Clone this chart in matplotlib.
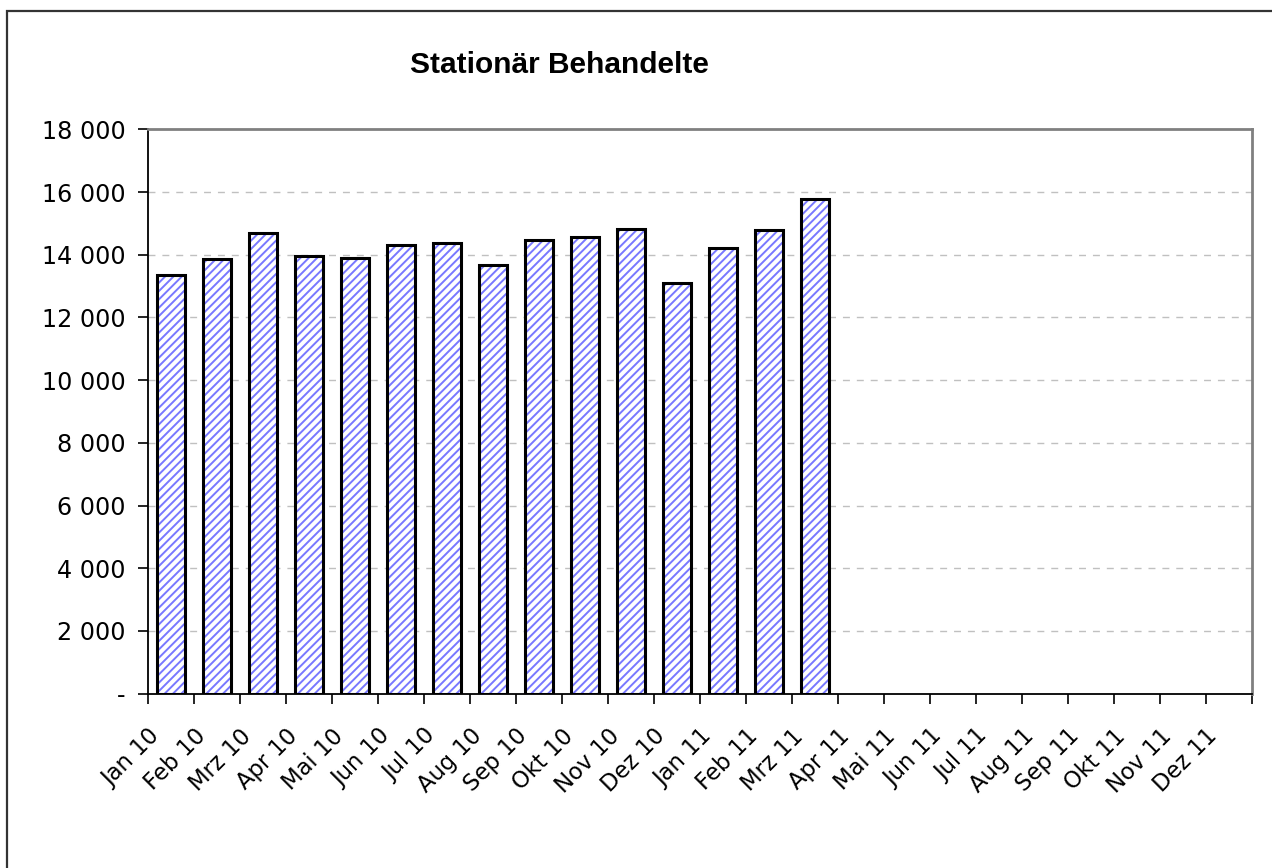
import matplotlib.pyplot as plt
import numpy as np
from matplotlib.patches import Rectangle
from matplotlib.ticker import FixedLocator
from matplotlib.transforms import ScaledTranslation
from matplotlib import font_manager

# Daten
monate = ['Jan 10', 'Feb 10', 'Mrz 10', 'Apr 10', 'Mai 10', 'Jun 10',
          'Jul 10', 'Aug 10', 'Sep 10', 'Okt 10', 'Nov 10', 'Dez 10',
          'Jan 11', 'Feb 11', 'Mrz 11', 'Apr 11', 'Mai 11', 'Jun 11',
          'Jul 11', 'Aug 11', 'Sep 11', 'Okt 11', 'Nov 11', 'Dez 11']
behandelte = [13350, 13870, 14700, 13970, 13910, 14310,
              14380, 13670, 14470, 14580, 14830, 13100,
              14210, 14790, 15780]
y_ticks = [0, 2000, 4000, 6000, 8000, 10000, 12000, 14000, 16000, 18000]
y_labels = ['-', '2 000', '4 000', '6 000', '8 000', '10 000',
            '12 000', '14 000', '16 000', '18 000']

plt.rcParams['hatch.linewidth'] = 1.4

# schmale Schrift für den Titel, falls vorhanden
condensed = any(f.name == 'DejaVu Sans' and f.stretch == 'condensed' and f.weight == 'bold'
                for f in font_manager.fontManager.ttflist)
if condensed:
    titel_kw = dict(family='DejaVu Sans', fontstretch='condensed', fontsize=21)
else:
    titel_kw = dict(family='Liberation Sans', fontsize=21.5)

fig = plt.figure(figsize=(12.72, 8.68), dpi=100)
ax = fig.add_axes([148/1272, 1 - 693.7/868, (1252-148)/1272, (693.7-129.3)/868])

# Rahmen des Diagrammbereichs
fig.patches.append(Rectangle((6.7/1272, -0.1), 1.2, 1 - 10.7/868 + 0.1,
                             transform=fig.transFigure, fill=False,
                             edgecolor='#333333', linewidth=1.6))

x = np.arange(len(behandelte))
# Schraffur (blau) und Umrandung (schwarz) getrennt zeichnen
ax.bar(x, behandelte, width=0.625, color='white', edgecolor='#7878ff',
       hatch='////', linewidth=0, zorder=3)
ax.bar(x, behandelte, width=0.625, fill=False, edgecolor='black',
       linewidth=2.2, zorder=4)

ax.set_xlim(-0.5, len(monate) - 0.5)
ax.set_ylim(0, 18000)

# Gitterlinien
for yt in y_ticks[1:-1]:
    ax.axhline(yt, color='#c0c0c0', linewidth=1, linestyle=(0, (5, 5)), zorder=1)

ax.set_yticks(y_ticks)
ax.set_yticklabels(y_labels, fontsize=17.2)
ax.tick_params(axis='y', direction='out', length=7, width=1.2, pad=9)

ax.set_xticks(np.arange(len(monate)))
ax.set_xticklabels(monate, fontsize=16.3, rotation=45, ha='right',
                   va='center', rotation_mode='anchor')
ax.tick_params(axis='x', which='major', length=0, pad=28)
verschiebung = ScaledTranslation(-15/100, 0, fig.dpi_scale_trans)
for lbl in ax.get_xticklabels():
    lbl.set_transform(lbl.get_transform() + verschiebung)
ax.xaxis.set_minor_locator(FixedLocator(np.arange(-0.5, len(monate), 1)))
ax.tick_params(axis='x', which='minor', direction='out', length=7, width=1.2)

for s in ['left', 'bottom']:
    ax.spines[s].set_color('black')
    ax.spines[s].set_linewidth(1.3)
for s in ['top', 'right']:
    ax.spines[s].set_color('#808080')
    ax.spines[s].set_linewidth(2)

fig.text(559/1272, 1 - 65/868, 'Stationär Behandelte',
         fontweight='bold', ha='center', va='center', **titel_kw)

fig.savefig('out.png', dpi=100)
